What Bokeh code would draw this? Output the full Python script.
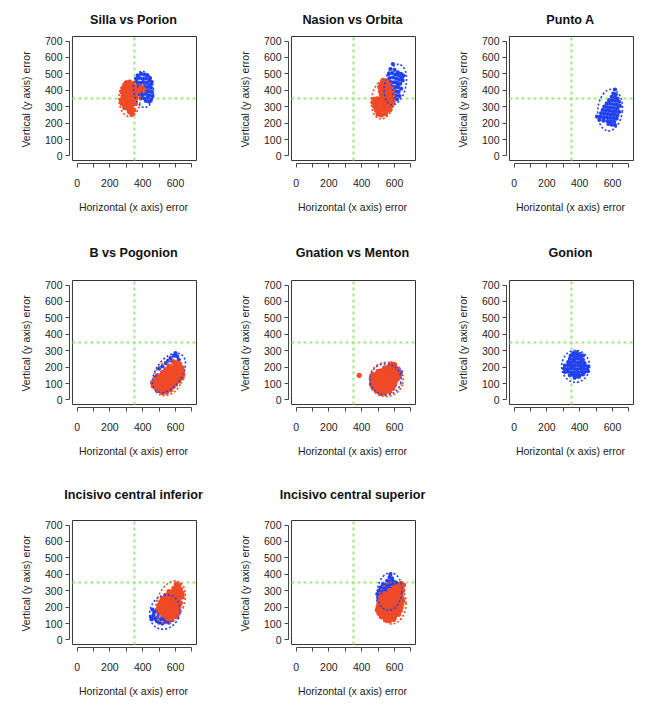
from bokeh.plotting import figure
from bokeh.layouts import column, row
from bokeh.models import Range1d, FixedTicker, Spacer
from bokeh.embed import file_html
from bokeh.resources import INLINE

# ---------------- data ----------------
TITLES = ["Silla vs Porion", "Nasion vs Orbita", "Punto A", "B vs Pogonion",
          "Gnation vs Menton", "Gonion", "Incisivo central inferior",
          "Incisivo central superior"]
X_LABEL = "Horizontal (x axis) error"
Y_LABEL = "Vertical (y axis) error"
TICKS = [0, 100, 200, 300, 400, 500, 600, 700]
X_TICK_LABELS = ["0", "", "200", "", "400", "", "600", ""]
Y_TICK_LABELS = ["0", "100", "200", "300", "400", "500", "600", "700"]
REF = 350   # reference cross

SILLA_BLUE = [(370,490),(390,500),(410,495),(430,490),(445,475),(360,470),(380,475),(400,470),
              (420,472),(440,460),(455,450),(365,450),(385,445),(405,450),(425,445),(445,435),
              (370,425),(390,420),(410,425),(430,420),(450,415),(375,400),(395,395),(415,400),
              (435,395),(455,390),(380,375),(400,372),(420,378),(440,370),(460,365),(390,352),
              (410,350),(430,355),(450,345),(420,335),(440,330)]
SILLA_RED = [(300,445),(320,450),(340,440),(290,430),(310,425),(330,430),(350,420),(280,410),
             (300,405),(320,410),(340,405),(360,400),(385,410),(405,405),(395,420),(275,390),
             (295,385),(315,390),(335,385),(355,380),(375,395),(280,365),(300,360),(320,365),
             (340,360),(360,355),(270,340),(290,340),(310,335),(330,340),(350,335),(275,320),
             (295,315),(315,320),(335,315),(355,320),(290,295),(310,290),(330,295),(345,280),
             (320,270),(335,255)]
NASION_BLUE = [(590,560),(575,530),(600,525),(620,510),(640,500),(655,490),(565,500),(585,505),
               (605,495),(625,490),(645,480),(570,475),(590,478),(610,470),(630,465),(650,460),
               (575,450),(595,448),(615,445),(635,440),(580,425),(600,420),(620,418),(640,410),
               (585,400),(605,395),(625,390),(590,375),(610,370),(630,365),(600,350),(615,345),
               (620,430),(560,460),(550,440)]
NASION_RED = [(530,460),(550,455),(520,440),(540,438),(560,440),(510,420),(530,418),(550,420),
              (570,415),(515,395),(535,398),(555,395),(575,390),(520,375),(540,372),(560,375),
              (580,360),(475,345),(495,348),(515,350),(535,345),(555,350),(575,340),(590,330),
              (470,325),(490,325),(510,328),(530,322),(550,325),(570,318),(480,300),(500,302),
              (520,298),(540,300),(560,295),(580,305),(490,278),(510,275),(530,280),(550,272),
              (570,280),(500,255),(520,250),(545,258)]
PUNTO_BLUE = [(615,405),(605,380),(620,375),(595,360),(615,355),(630,350),(580,340),(600,338),
              (620,335),(640,330),(565,320),(585,318),(605,315),(625,312),(645,305),(550,300),
              (570,298),(590,295),(610,292),(630,290),(540,280),(560,278),(580,275),(600,272),
              (620,270),(640,268),(530,260),(550,258),(570,255),(590,252),(610,250),(630,248),
              (505,240),(525,238),(545,236),(565,235),(585,232),(605,230),(625,228),(520,220),
              (545,215),(570,212),(590,210),(610,208),(575,195),(595,190),(615,188)]
PUNTO_RED = []
POG_BLUE = [(600,285),(590,270),(610,265),(570,255),(620,245),(555,240),(580,235),(540,225),
            (600,225),(520,205),(560,210),(500,190),(630,200),(490,150),(480,140),(520,170),
            (545,185),(580,200),(610,180),(640,170),(500,120),(530,100),(560,120),(590,140),
            (620,130),(550,160)]
POG_RED = [(590,230),(610,225),(625,220),(560,205),(580,200),(600,205),(620,200),(640,195),
           (540,185),(560,180),(580,185),(600,180),(620,178),(640,175),(520,165),(540,160),
           (560,165),(580,160),(600,158),(620,160),(645,155),(500,145),(520,140),(540,142),
           (560,138),(580,140),(600,138),(620,140),(640,135),(480,125),(500,120),(520,122),
           (540,118),(560,120),(580,118),(600,120),(620,115),(460,105),(480,100),(500,102),
           (520,98),(540,100),(560,98),(580,100),(600,95),(465,85),(485,80),(505,82),(525,78),
           (545,80),(565,78),(585,82),(490,60),(510,62),(530,58),(550,60),(570,62),(520,45),
           (545,48)]
GNA_BLUE = [(600,210),(640,170),(625,190),(545,175),(470,85),(575,60),(520,160),(610,140)]
GNA_RED = [(385,150),(580,220),(600,215),(540,195),(560,198),(580,200),(600,195),(620,190),
           (500,175),(520,178),(540,175),(560,178),(580,175),(600,172),(620,170),(470,155),
           (490,158),(510,155),(530,158),(550,155),(570,158),(590,155),(610,152),(630,150),
           (460,135),(480,138),(500,135),(520,138),(540,135),(560,138),(580,135),(600,132),
           (620,130),(465,115),(485,118),(505,115),(525,118),(545,115),(565,118),(585,115),
           (605,112),(460,95),(480,98),(500,95),(520,98),(540,95),(560,98),(580,95),(600,92),
           (470,75),(490,78),(510,75),(530,78),(550,75),(570,78),(590,72),(490,55),(510,58),
           (530,55),(550,58),(570,52),(515,40),(540,42)]
GON_BLUE = [(360,285),(380,290),(400,280),(345,270),(365,268),(385,272),(405,265),(420,270),
            (340,250),(360,248),(380,252),(400,250),(420,245),(330,230),(350,228),(370,232),
            (390,228),(410,230),(430,225),(310,210),(330,212),(350,208),(370,210),(390,212),
            (410,208),(430,210),(450,205),(305,190),(325,188),(345,192),(365,190),(385,188),
            (405,192),(425,190),(445,188),(310,170),(330,172),(350,168),(370,170),(390,168),
            (410,172),(430,170),(450,175),(340,150),(360,152),(380,148),(400,150),(420,155),
            (370,135),(395,140)]
GON_RED = []
INF_BLUE = [(450,140),(465,150),(455,125),(475,130),(470,165),(485,115),(500,105),(520,100),
            (540,110),(560,105),(490,140),(510,125),(530,125),(480,175),(500,160),(580,120),
            (600,140),(460,185),(620,170),(520,140),(560,135)]
INF_RED = [(605,340),(620,335),(590,315),(610,312),(630,310),(560,295),(580,292),(600,290),
           (620,288),(640,285),(540,272),(560,270),(580,268),(600,270),(620,265),(640,262),
           (520,252),(540,250),(560,248),(580,250),(600,246),(620,248),(510,232),(530,230),
           (550,228),(570,230),(590,226),(610,228),(630,225),(500,212),(520,210),(540,208),
           (560,210),(580,206),(600,208),(620,205),(495,192),(515,190),(535,188),(555,190),
           (575,186),(595,188),(615,185),(510,170),(530,168),(550,170),(570,166),(590,168),
           (610,165),(525,150),(545,148),(565,150),(585,146),(605,148),(550,130),(575,128)]
SUP_BLUE = [(575,400),(570,380),(585,375),(555,360),(575,355),(595,355),(610,350),(530,340),
            (550,338),(570,335),(590,338),(610,335),(630,340),(515,320),(535,318),(555,320),
            (575,315),(595,318),(615,315),(505,300),(525,298),(545,300),(565,295),(585,298),
            (495,280),(515,278),(535,280),(555,275),(500,260),(520,255),(540,258),(500,240),
            (520,235)]
SUP_RED = [(640,345),(655,335),(600,322),(620,325),(640,318),(570,302),(590,300),(610,305),
           (630,298),(650,302),(540,282),(560,280),(580,278),(600,282),(620,280),(640,276),
           (520,262),(540,260),(560,258),(580,262),(600,258),(620,260),(645,255),(510,242),
           (530,240),(550,238),(570,242),(590,238),(610,240),(630,236),(650,240),(505,222),
           (525,220),(545,218),(565,222),(585,218),(605,220),(625,216),(645,220),(500,202),
           (520,200),(540,198),(560,202),(580,198),(600,200),(620,196),(640,200),(495,182),
           (515,180),(535,178),(555,182),(575,178),(595,180),(615,176),(635,180),(505,162),
           (525,160),(545,158),(565,162),(585,158),(605,160),(625,156),(520,142),(540,140),
           (560,138),(580,142),(600,140),(545,122),(570,118),(595,125)]

# ellipses: (centre x, centre y, width, height, angle in radians)
SILLA_ELL = [(405, 405, 120, 220, 0.1), (320, 350, 130, 220, 0.0)]
NASION_ELL = [(605, 435, 130, 250, -0.2), (530, 345, 140, 240, -0.15)]
PUNTO_ELL = [(585, 280, 150, 255, -0.1), None]
POG_ELL = [(560, 165, 160, 270, -0.6), (555, 135, 170, 230, -0.5)]
GNA_ELL = [(545, 125, 190, 190, -0.2), (550, 125, 205, 210, -0.3)]
GON_ELL = [(375, 205, 170, 195, 0.0), None]
INF_ELL = [(535, 170, 180, 215, -0.4), (570, 230, 165, 270, -0.35)]
SUP_ELL = [(570, 295, 150, 230, -0.1), (585, 225, 170, 255, 0.0)]

PANELS = [
    (TITLES[0], SILLA_BLUE, SILLA_RED, SILLA_ELL),
    (TITLES[1], NASION_BLUE, NASION_RED, NASION_ELL),
    (TITLES[2], PUNTO_BLUE, PUNTO_RED, PUNTO_ELL),
    (TITLES[3], POG_BLUE, POG_RED, POG_ELL),
    (TITLES[4], GNA_BLUE, GNA_RED, GNA_ELL),
    (TITLES[5], GON_BLUE, GON_RED, GON_ELL),
    (TITLES[6], INF_BLUE, INF_RED, INF_ELL),
    (TITLES[7], SUP_BLUE, SUP_RED, SUP_ELL),
]

# ---------------- style ----------------
BLUE = "#2140ee"
RED = "#f04a28"
GREEN = "#9fe883"
FONT = "Liberation Sans"
FRAME = 128
COL_W = [227, 218, 210]
COL_LEFT = [69, 61, 61]
ROW_H = [222, 244, 233]
ROW_TOP = [35, 57, 53]
TITLE_STANDOFF = [18, 40, 35]

LO, HI = TICKS[0], TICKS[-1]
PAD = 0.04 * (HI - LO)
BOX_LO, BOX_HI = LO - PAD, HI + PAD


def make_panel(i, title, blue, red, ells):
    r, c = divmod(i, 3)
    w, h = COL_W[c], ROW_H[r]
    left = COL_LEFT[c]
    top = ROW_TOP[r]
    bottom = h - top - FRAME
    p = figure(width=w, height=h, x_range=Range1d(-46, 734), y_range=Range1d(-46, 734),
               output_backend="svg", toolbar_location=None,
               min_border_left=left, min_border_right=w - left - FRAME,
               min_border_top=top, min_border_bottom=bottom, title=title)
    p.outline_line_color = None
    p.grid.visible = False
    p.background_fill_color = "white"
    p.border_fill_color = "white"
    p.title.text_font = FONT
    p.title.text_font_size = "12.6px"
    p.title.text_font_style = "bold"
    p.title.text_color = "#111111"
    p.title.align = "center"
    p.title.vertical_align = "bottom"
    p.title.standoff = TITLE_STANDOFF[r]

    # box
    p.quad(left=[BOX_LO], right=[BOX_HI], bottom=[BOX_LO], top=[BOX_HI],
           fill_color=None, line_color="#333333", line_width=1)
    # reference cross
    p.segment(x0=[REF, BOX_LO], y0=[BOX_LO, REF], x1=[REF, BOX_HI], y1=[BOX_HI, REF],
              line_color=GREEN, line_width=2, line_dash="3 3")
    # points
    if blue:
        bx, by = zip(*blue)
        p.scatter(list(bx), list(by), size=4.2, fill_color=BLUE, line_color=None)
    if red:
        rx, ry = zip(*red)
        p.scatter(list(rx), list(ry), size=5.2, fill_color=RED, line_color=None)
    # ellipses
    for e, col in zip(ells, [BLUE, RED]):
        if e is None:
            continue
        cx, cy, ew, eh, ang = e
        p.ellipse(x=[cx], y=[cy], width=[ew], height=[eh], angle=[ang],
                  fill_color=None, line_color=col, line_width=1.6, line_dash="2 2")

    for ax, labels in ((p.xaxis[0], X_TICK_LABELS), (p.yaxis[0], Y_TICK_LABELS)):
        ax.ticker = FixedTicker(ticks=TICKS, minor_ticks=[])
        ax.major_label_overrides = {t: l for t, l in zip(TICKS, labels)}
        ax.bounds = (LO, HI)
        ax.major_tick_in = 0
        ax.major_tick_out = 4
        ax.minor_tick_line_color = None
        ax.axis_line_color = "#444444"
        ax.major_tick_line_color = "#444444"
        ax.major_label_text_font = FONT
        ax.major_label_text_font_size = "10.5px"
        ax.major_label_text_color = "#222222"
        ax.axis_label_text_font = FONT
        ax.axis_label_text_font_size = "10.5px"
        ax.axis_label_text_font_style = "normal"
        ax.axis_label_text_color = "#222222"
    p.xaxis.axis_label = X_LABEL
    p.yaxis.axis_label = Y_LABEL
    p.xaxis.major_label_standoff = 11
    p.xaxis.axis_label_standoff = 11
    p.yaxis.major_label_standoff = 3
    p.yaxis.axis_label_standoff = 10
    return p


figs = [make_panel(i, *pan) for i, pan in enumerate(PANELS)]
rows = [row(*figs[0:3]), row(*figs[3:6]),
        row(figs[6], figs[7], Spacer(width=COL_W[2], height=ROW_H[2]))]
layout = column(*rows)

open("out.html", "w").write(file_html(layout, INLINE))
